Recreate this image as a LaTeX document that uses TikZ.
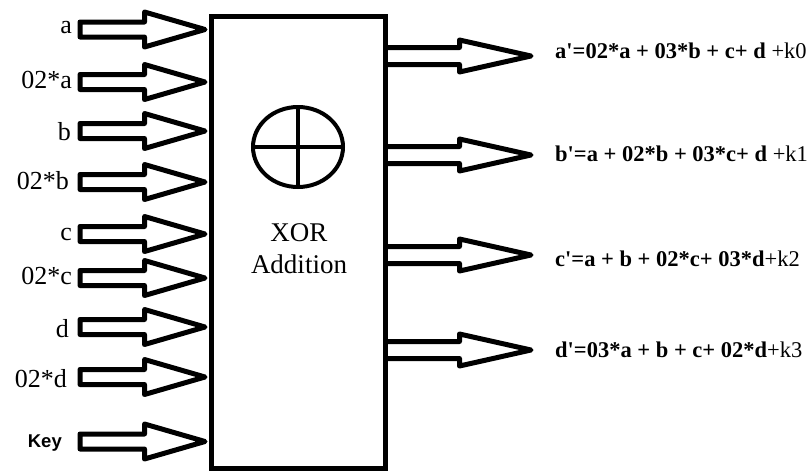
\documentclass[tikz,border=0pt]{standalone}
\usepackage{fontspec}
\usetikzlibrary{shapes.geometric}
\setmainfont{Liberation Serif}
\newfontfamily\plainserif{Liberation Serif}
\newfontfamily\keyfont{Liberation Sans}
\begin{document}
\begin{tikzpicture}[x=1pt,y=-1pt]
\tikzset{
  blockarrow/.style={draw=black, line width=5pt, line join=round},
  inlabel/.style={anchor=base east, inner sep=0pt, font=\fontsize{26}{30}\selectfont},
  outlabel/.style={anchor=base west, inner sep=0pt, font=\plainserif\fontsize{22.5}{26}\selectfont},
  midtext/.style={align=center, inner sep=0pt, font=\fontsize{27}{32}\selectfont},
}
\useasboundingbox (0,0) rectangle (812,472);
% main box
\node[draw, line width=5pt, minimum width=174pt, minimum height=452pt, inner sep=0pt] (box) at (298,242) {};
% xor symbol
\node[draw, ellipse, line width=4pt, minimum width=90pt, minimum height=80pt, inner sep=0pt] (xor) at (298,147) {};
\draw[line width=4pt] (xor.north) -- (xor.south);
\draw[line width=4pt] (xor.west) -- (xor.east);
\node[midtext] (xortext) at (299,249) {XOR\\Addition};
% input arrows and labels
\foreach \yc/\bl/\rx/\txt/\nm in {
  29.5/33/72/a/ia,
  82/88/72/02*a/ib,
  131/140/71/b/ic,
  182/189/69/02*b/id,
  234/240/72/c/ie,
  278/284/72/02*c/if,
  327/337/69/d/ig,
  377/387/67/02*d/ih}{
  \node[inlabel] (\nm) at (\rx,\bl) {\txt};
  \draw[blockarrow] (80,\yc-7.5) -- (144.5,\yc-7.5) -- (144.5,\yc-17.5) -- (205,\yc)
     -- (144.5,\yc+17.5) -- (144.5,\yc+7.5) -- (80,\yc+7.5) -- cycle;
}
\node[anchor=base east, inner sep=0pt, font=\keyfont\bfseries\fontsize{18.5}{22}\selectfont] (key) at (62,447) {Key};
\draw[blockarrow] (80,441.5-7.5) -- (144.5,441.5-7.5) -- (144.5,441.5-17.5) -- (205,441.5)
     -- (144.5,441.5+17.5) -- (144.5,441.5+7.5) -- (80,441.5+7.5) -- cycle;
% output arrows and labels
\foreach \yc/\bl/\txt/\nm in {
  56/58/{\textbf{a'=02*a + 03*b + c+ d} +k0}/oa,
  155/161/{\textbf{b'=a + 02*b + 03*c+ d} +k1}/ob,
  255/266/{\textbf{c'=a + b + 02*c+ 03*d}+k2}/oc,
  350/357/{\textbf{d'=03*a + b + c+ 02*d}+k3}/od}{
  \draw[blockarrow] (box.east |- 0,\yc-8.5) -- (459.5,\yc-8.5) -- (459.5,\yc-16) -- (531,\yc)
     -- (459.5,\yc+16) -- (459.5,\yc+8.5) -- (box.east |- 0,\yc+8.5);
  \node[outlabel] (\nm) at (555,\bl) {\txt};
}
\end{tikzpicture}
\end{document}
